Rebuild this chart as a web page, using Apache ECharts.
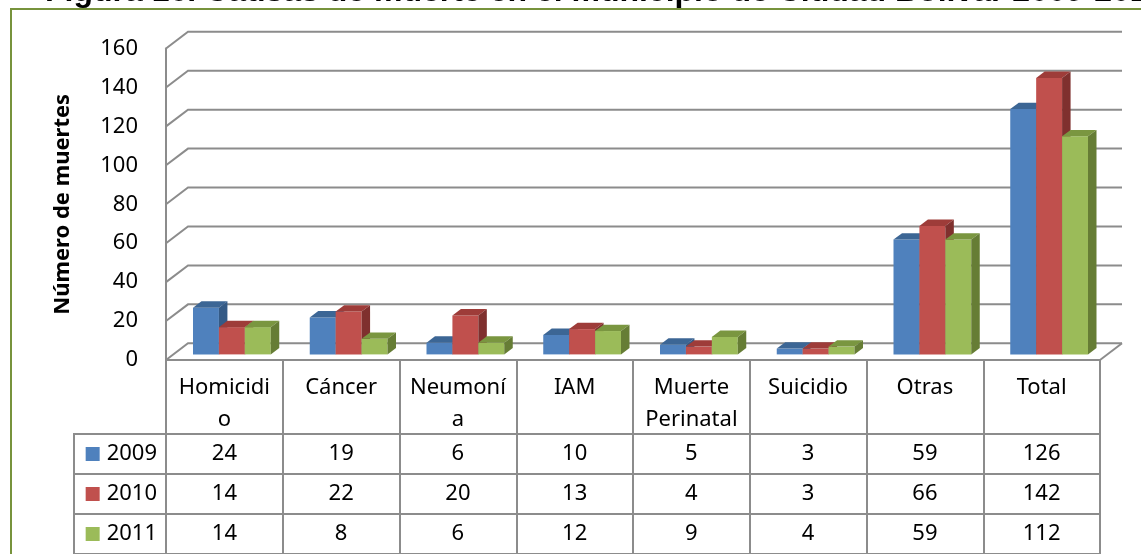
<!DOCTYPE html>
<html>
<head>
<meta charset="utf-8">
<script src="https://cdn.jsdelivr.net/npm/echarts@6/dist/echarts.min.js"></script>
<style>
  html, body { margin: 0; padding: 0; background: #fff; }
  #chart { width: 1141px; height: 554px; }
</style>
</head>
<body>
<div id="chart"></div>
<script>
// data
var categories = ['Homicidio', 'Cáncer', 'Neumonía', 'IAM', 'Muerte Perinatal', 'Suicidio', 'Otras', 'Total'];
var headerLabels = ['Homicidi\no', 'Cáncer', 'Neumoní\na', 'IAM', 'Muerte\nPerinatal', 'Suicidio', 'Otras', 'Total'];
var years = ['2009', '2010', '2011'];
var deaths2009 = [24, 19, 6, 10, 5, 3, 59, 126];
var deaths2010 = [14, 22, 20, 13, 4, 3, 66, 142];
var deaths2011 = [14, 8, 6, 12, 9, 4, 59, 112];
var yTicks = [0, 20, 40, 60, 80, 100, 120, 140, 160];

var FONT = 'Noto Sans';
var GRID_COLOR = '#8c8c8c';
// 3d look: wall depth offset, and bar placement inside it
var WALL_DX = 22, WALL_DY = -16.7;
var BAR_FX = 7.5, BAR_FY = -5.6;
var BAR_DX = 8.5, BAR_DY = -6.4;
var BAR_FRAC = 0.222;

var faces = [
    {front: '#4F81BD', top: '#3C6695', side: '#345A86'},
    {front: '#C0504D', top: '#9E3C39', side: '#7F302E'},
    {front: '#9BBB59', top: '#7A9640', side: '#667D35'}
];
var seriesValues = [deaths2009, deaths2010, deaths2011];

var myChart = echarts.init(document.getElementById('chart'));

function renderWall(params, api) {
    var cs = params.coordSys;
    var y = api.coord([0, api.value(0)])[1];
    var style = {stroke: GRID_COLOR, lineWidth: 2, fill: null};
    var children = [{
        type: 'polyline',
        shape: {points: [[cs.x, y], [cs.x + WALL_DX, y + WALL_DY], [cs.x + cs.width + WALL_DX, y + WALL_DY]]},
        style: style
    }];
    if (api.value(0) === 0) {
        children.push({
            type: 'line',
            shape: {x1: cs.x + cs.width, y1: y, x2: cs.x + cs.width + WALL_DX, y2: y + WALL_DY},
            style: style
        });
    }
    return {type: 'group', children: children};
}

function makeBarRenderer(s) {
    return function (params, api) {
        var idx = api.value(0);
        var top = api.coord([idx, api.value(1)]);
        var base = api.coord([idx, 0]);
        var bw = api.size([1, 0])[0] * BAR_FRAC;
        var x0 = top[0] - 1.5 * bw + s * bw + BAR_FX;
        var yT = top[1] + BAR_FY;
        var yB = base[1] + BAR_FY;
        var c = faces[s];
        return {
            type: 'group',
            children: [
                {type: 'rect', shape: {x: x0, y: yT, width: bw, height: yB - yT}, style: {fill: c.front}},
                {type: 'polygon', shape: {points: [[x0, yT], [x0 + bw, yT], [x0 + bw + BAR_DX, yT + BAR_DY], [x0 + BAR_DX, yT + BAR_DY]]}, style: {fill: c.top}},
                {type: 'polygon', shape: {points: [[x0 + bw, yT], [x0 + bw + BAR_DX, yT + BAR_DY], [x0 + bw + BAR_DX, yB + BAR_DY], [x0 + bw, yB]]}, style: {fill: c.side}}
            ]
        };
    };
}

function renderCell(params, api) {
    var p = api.coord([api.value(0), api.value(1)]);
    return {
        type: 'text',
        x: p[0], y: p[1],
        style: {
            text: String(api.value(2)),
            textAlign: 'center', textVerticalAlign: 'middle',
            font: '22px "' + FONT + '"', fill: '#000'
        }
    };
}

function renderLegendCell(params, api) {
    var cs = params.coordSys;
    var p = api.coord([0, api.value(0)]);
    var h = api.size([0, 1])[1];
    return {
        type: 'rect',
        shape: {x: 74, y: p[1] - h / 2, width: cs.x - 74, height: h},
        style: {fill: null, stroke: GRID_COLOR, lineWidth: 2}
    };
}

var barSeries = seriesValues.map(function (vals, s) {
    return {
        type: 'custom',
        name: years[s],
        xAxisIndex: 0, yAxisIndex: 0,
        clip: false,
        renderItem: makeBarRenderer(s),
        data: vals.map(function (v, i) { return [i, v]; })
    };
});

var cellData = [];
seriesValues.forEach(function (vals, r) {
    vals.forEach(function (v, c) { cellData.push([c, r, v]); });
});

var sq = {};
faces.forEach(function (c, i) {
    sq['sq' + i] = {width: 14, height: 14, backgroundColor: c.front};
});
sq.t = {fontFamily: FONT, fontSize: 22, color: '#000', padding: [0, 0, 0, 7]};

var option = {
    backgroundColor: '#fff',
    animation: false,
    title: {
        text: 'Figura 16. Causas de muerte en el municipio de Ciudad Bolívar 2009-2011',
        left: 40, top: -29,
        textStyle: {fontFamily: 'Liberation Sans', fontWeight: 'bold', fontSize: 32, color: '#000'}
    },
    graphic: [{
        type: 'rect', z: -10,
        shape: {x: 11, y: 9, width: 1200, height: 600},
        style: {fill: null, stroke: '#77933C', lineWidth: 2}
    }],
    grid: [
        {left: 166, right: 41, top: 48.5, bottom: 194},
        {left: 166, right: 41, top: 434, bottom: -3, show: true, borderColor: GRID_COLOR, borderWidth: 2}
    ],
    xAxis: [{
        gridIndex: 0, type: 'category', data: categories,
        axisLine: {lineStyle: {color: GRID_COLOR, width: 2}},
        axisTick: {show: true, length: 74, lineStyle: {color: GRID_COLOR, width: 2}},
        axisLabel: {
            interval: 0, margin: 12, color: '#000', fontFamily: FONT, fontSize: 22, lineHeight: 32,
            formatter: function (v, i) { return headerLabels[i]; }
        },
        splitLine: {show: false}
    }, {
        gridIndex: 1, type: 'category', data: categories,
        axisLine: {show: false}, axisTick: {show: false}, axisLabel: {show: false},
        splitLine: {show: true, lineStyle: {color: GRID_COLOR, width: 2}}
    }],
    yAxis: [{
        gridIndex: 0, type: 'value', min: 0, max: 160, interval: 20,
        name: 'Número de muertes', nameLocation: 'middle', nameGap: 92, nameRotate: 90,
        nameTextStyle: {fontFamily: FONT, fontWeight: 'bold', fontSize: 22, color: '#000'},
        axisLine: {show: true, lineStyle: {color: GRID_COLOR, width: 2}},
        axisTick: {show: false},
        axisLabel: {margin: 28, color: '#000', fontFamily: FONT, fontSize: 22},
        splitLine: {show: false}
    }, {
        gridIndex: 1, type: 'category', data: years, inverse: true,
        axisLine: {show: false}, axisTick: {show: false},
        axisLabel: {
            margin: 9, rich: sq,
            formatter: function (v, i) { return '{sq' + i + '|}{t|' + v + '}'; }
        },
        splitLine: {show: true, lineStyle: {color: GRID_COLOR, width: 2}}
    }],
    series: [{
        type: 'custom', name: 'wall', xAxisIndex: 0, yAxisIndex: 0, clip: false, silent: true,
        renderItem: renderWall,
        encode: {y: 0},
        data: yTicks.map(function (v) { return [v]; })
    }].concat(barSeries).concat([{
        type: 'custom', name: 'legendCells', xAxisIndex: 1, yAxisIndex: 1, clip: false, silent: true,
        renderItem: renderLegendCell,
        encode: {y: 0},
        data: years.map(function (y, i) { return [i]; })
    }, {
        type: 'custom', name: 'cells', xAxisIndex: 1, yAxisIndex: 1, clip: false, silent: true,
        renderItem: renderCell,
        encode: {x: 0, y: 1},
        data: cellData
    }])
};

myChart.setOption(option);
</script>
</body>
</html>
